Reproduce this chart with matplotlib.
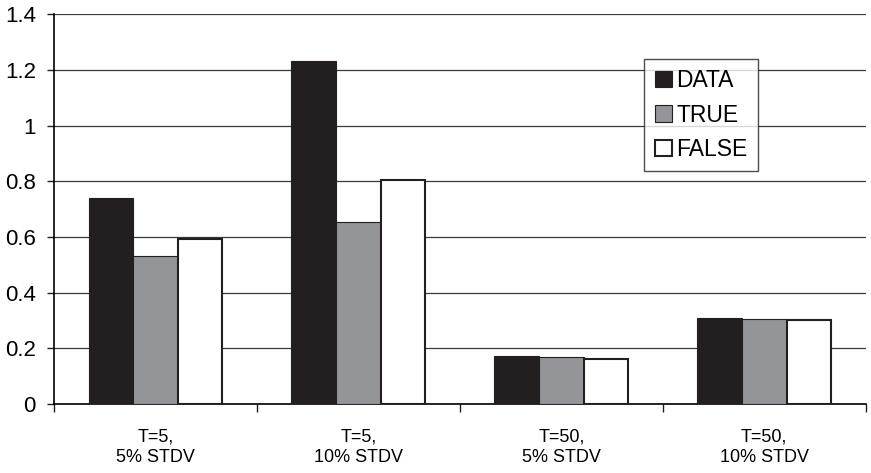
import numpy as np
import matplotlib.pyplot as plt
from matplotlib.ticker import FixedLocator

plt.rcParams['font.family'] = ['Liberation Sans', 'DejaVu Sans']

# 数据
categories = ['T=5,\n5% STDV', 'T=5,\n10% STDV', 'T=50,\n5% STDV', 'T=50,\n10% STDV']
data_vals = [0.739, 1.231, 0.172, 0.309]
true_vals = [0.531, 0.653, 0.168, 0.305]
false_vals = [0.592, 0.803, 0.162, 0.300]
series_names = ['DATA', 'TRUE', 'FALSE']
colors = ['#231f20', '#939598', '#ffffff']

fig = plt.figure(figsize=(8.71, 4.73), dpi=100)
ax = fig.add_axes([0.062, 0.146, 0.932, 0.824])

x = np.arange(len(categories))
w = 0.22
for i, (vals, name, c) in enumerate(zip([data_vals, true_vals, false_vals], series_names, colors)):
    ax.bar(x + (i - 1) * w, vals, width=w, color=c, edgecolor='#231f20',
           linewidth=1.5 if c == '#ffffff' else 0.8, label=name, zorder=3)

ax.set_xlim(-0.5, len(categories) - 0.5)
ax.set_ylim(0, 1.4)
ax.set_yticks(np.arange(0, 1.41, 0.2))
ax.set_yticklabels(['0', '0.2', '0.4', '0.6', '0.8', '1', '1.2', '1.4'], fontsize=16)
ax.yaxis.grid(True, color='#3a3a3a', linewidth=0.9, zorder=0)
ax.set_xticks(x)
ax.set_xticklabels(categories, fontsize=13, linespacing=1.25)
ax.tick_params(axis='x', length=0, pad=18)
ax.xaxis.set_minor_locator(FixedLocator(np.arange(-0.5, len(categories), 1)))
ax.tick_params(axis='x', which='minor', length=6, width=1, color='#231f20')
ax.tick_params(axis='y', length=5, width=1, color='#231f20', pad=8)

for s in ['top', 'right']:
    ax.spines[s].set_visible(False)
ax.spines['left'].set_linewidth(1.2)
ax.spines['bottom'].set_linewidth(1.2)

leg = ax.legend(loc='upper left', bbox_to_anchor=(0.713, 0.915), fontsize=16.5,
                frameon=True, fancybox=False, edgecolor='#231f20',
                handlelength=0.75, handleheight=0.75, handletextpad=0.2,
                labelspacing=0.5, borderpad=0.45)
leg.get_frame().set_linewidth(1.0)
leg.set_zorder(5)

plt.savefig('out.png', dpi=100)
